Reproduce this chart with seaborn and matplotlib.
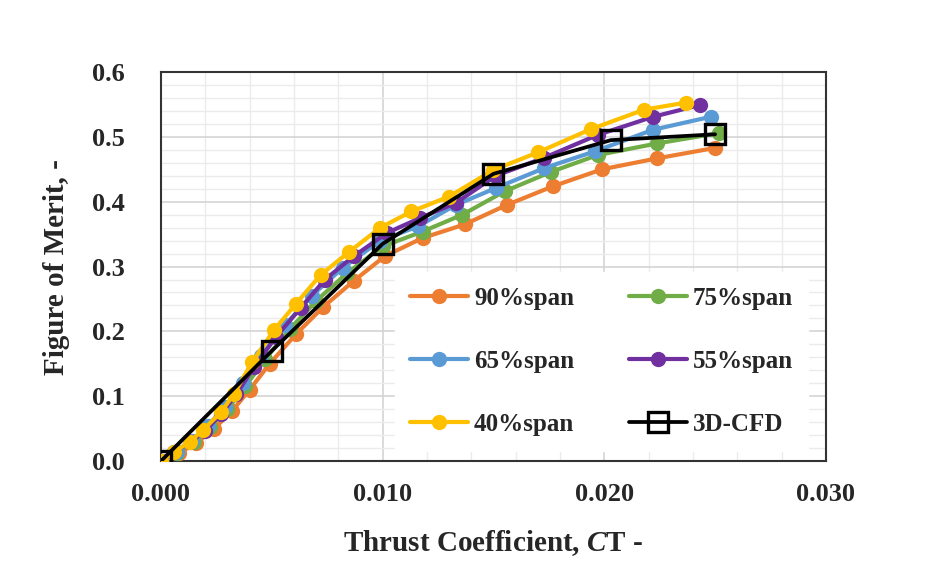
import matplotlib
matplotlib.use("Agg")
import matplotlib.pyplot as plt
from matplotlib.ticker import MultipleLocator, FormatStrFormatter
import seaborn as sns

# Figure of Merit vs thrust coefficient for several span stations
ct_90 = [0, 0.0008, 0.0016, 0.0024, 0.0032, 0.0040, 0.0049, 0.0061, 0.0073, 0.0087,
         0.0101, 0.0118, 0.0137, 0.0156, 0.0177, 0.0199, 0.0224, 0.0250]
fm_90 = [0, 0.012, 0.028, 0.050, 0.077, 0.110, 0.150, 0.196, 0.237, 0.278,
         0.316, 0.344, 0.365, 0.395, 0.424, 0.450, 0.467, 0.483]

ct_75 = [0, 0.0007, 0.0015, 0.0022, 0.0030, 0.0038, 0.0047, 0.0058, 0.0070, 0.0084,
         0.0100, 0.0118, 0.0136, 0.0155, 0.0176, 0.0197, 0.0224, 0.0252]
fm_75 = [0, 0.013, 0.030, 0.052, 0.080, 0.115, 0.157, 0.203, 0.247, 0.290,
         0.331, 0.354, 0.380, 0.416, 0.446, 0.472, 0.490, 0.506]

ct_65 = [0, 0.0007, 0.0014, 0.0021, 0.0029, 0.0037, 0.0045, 0.0056, 0.0068, 0.0082,
         0.0099, 0.0116, 0.0133, 0.0151, 0.0173, 0.0196, 0.0222, 0.0248]
fm_65 = [0, 0.014, 0.031, 0.054, 0.084, 0.120, 0.162, 0.210, 0.255, 0.298,
         0.340, 0.362, 0.395, 0.421, 0.452, 0.478, 0.511, 0.531]

ct_55 = [0, 0.0006, 0.0013, 0.0020, 0.0027, 0.0034, 0.0042, 0.0052, 0.0063, 0.0074,
         0.0087, 0.0102, 0.0117, 0.0133, 0.0151, 0.0173, 0.0197, 0.0222, 0.0243]
fm_55 = [0, 0.014, 0.029, 0.047, 0.072, 0.103, 0.145, 0.192, 0.236, 0.280,
         0.316, 0.352, 0.375, 0.398, 0.440, 0.468, 0.503, 0.531, 0.549]

ct_40 = [0, 0.0006, 0.0013, 0.0019, 0.0027, 0.0033, 0.0041, 0.0051, 0.0061, 0.0072,
         0.0085, 0.0099, 0.0113, 0.0130, 0.0150, 0.0170, 0.0194, 0.0218, 0.0237]
fm_40 = [0, 0.014, 0.030, 0.048, 0.075, 0.104, 0.152, 0.202, 0.243, 0.287,
         0.323, 0.360, 0.385, 0.408, 0.449, 0.476, 0.512, 0.542, 0.553]

ct_cfd = [0, 0.0050, 0.0100, 0.0150, 0.0203, 0.0250]
fm_cfd = [0, 0.170, 0.335, 0.443, 0.495, 0.504]

span_series = [
    ("90%span", ct_90, fm_90, "#ED7D31"),
    ("75%span", ct_75, fm_75, "#70AD47"),
    ("65%span", ct_65, fm_65, "#5B9BD5"),
    ("55%span", ct_55, fm_55, "#7030A0"),
    ("40%span", ct_40, fm_40, "#FFC000"),
]

sns.set_style("white")
plt.rcParams['font.family'] = ['Liberation Serif', 'DejaVu Serif']
plt.rcParams['font.weight'] = 'bold'
plt.rcParams['mathtext.fontset'] = 'custom'
plt.rcParams['mathtext.it'] = 'Liberation Serif:italic:bold'
plt.rcParams['mathtext.rm'] = 'Liberation Serif:bold'

fig = plt.figure(figsize=(9.29, 5.72), dpi=100)
ax = fig.add_axes([0.1733, 0.194, 0.7157, 0.680])

for name, xs, ys, col in span_series:
    sns.lineplot(x=xs, y=ys, ax=ax, color=col, linewidth=3.0, marker='o',
                 markersize=11, markeredgecolor=col, markeredgewidth=0,
                 estimator=None, sort=False, label=name, zorder=3)
sns.lineplot(x=ct_cfd, y=fm_cfd, ax=ax, color='black', linewidth=2.7, marker='s',
             markersize=14, markerfacecolor='none', markeredgecolor='black',
             markeredgewidth=2.4, estimator=None, sort=False, label="3D-CFD", zorder=4)

ax.set_xlim(0, 0.030)
ax.set_ylim(0, 0.6)
ax.xaxis.set_major_locator(MultipleLocator(0.010))
ax.xaxis.set_minor_locator(MultipleLocator(0.002))
ax.yaxis.set_major_locator(MultipleLocator(0.1))
ax.yaxis.set_minor_locator(MultipleLocator(0.02))
ax.xaxis.set_major_formatter(FormatStrFormatter('%.3f'))
ax.yaxis.set_major_formatter(FormatStrFormatter('%.1f'))

ax.grid(which='minor', color='#EBEBEB', linewidth=1.0, zorder=0)
ax.grid(which='major', color='#D4D4D4', linewidth=1.2, zorder=0)
ax.set_axisbelow(True)

for sp in ax.spines.values():
    sp.set_color('#333333')
    sp.set_linewidth(1.5)

ax.tick_params(axis='both', which='major', direction='in', length=7, width=1.3,
               labelsize=19, color='#333333')
ax.tick_params(axis='y', which='major', pad=26)
ax.tick_params(axis='x', which='major', pad=16)
ax.tick_params(which='minor', length=0)
for lbl in ax.get_xticklabels() + ax.get_yticklabels():
    lbl.set_fontweight('bold')

ax.set_xlabel(r"Thrust Coefficient, $\mathit{C}$T -", fontsize=21, fontweight='bold', labelpad=16)
ax.set_ylabel("Figure of Merit, -", fontsize=21, fontweight='bold', labelpad=16)

h, l = ax.get_legend_handles_labels()
order = [0, 2, 4, 1, 3, 5]
leg = ax.legend([h[i] for i in order], [l[i] for i in order], ncol=2,
                loc='lower right', bbox_to_anchor=(0.992, -0.006), fontsize=18,
                frameon=True, facecolor='white', edgecolor='white', framealpha=1,
                fancybox=False, handlelength=2.3, handletextpad=0.25,
                labelspacing=1.6, columnspacing=2.2, borderpad=0.6, numpoints=1)
leg.set_zorder(5)
for t in leg.get_texts():
    t.set_fontweight('bold')

fig.savefig("out.png", dpi=100, facecolor='white')
